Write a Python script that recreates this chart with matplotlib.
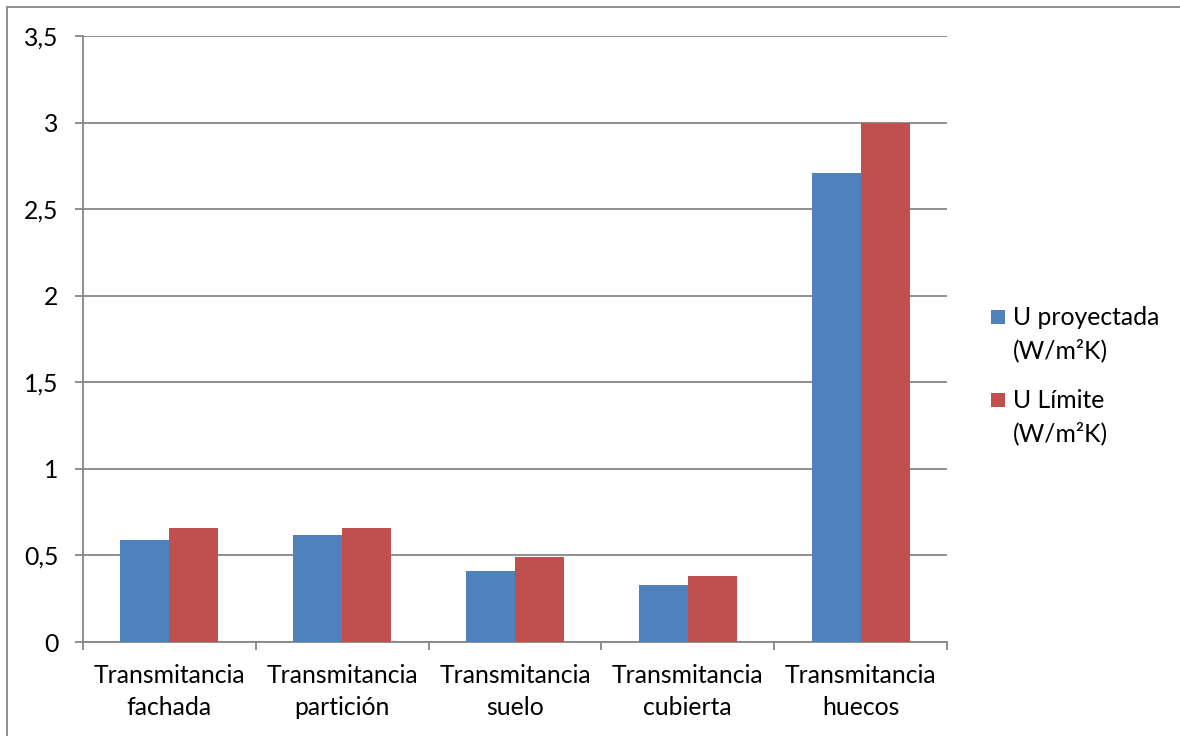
import matplotlib.pyplot as plt
from matplotlib.patches import Rectangle
import numpy as np

categories = ["Transmitancia\nfachada", "Transmitancia\npartición", "Transmitancia\nsuelo",
              "Transmitancia\ncubierta", "Transmitancia\nhuecos"]
u_proyectada = [0.59, 0.62, 0.41, 0.33, 2.71]
u_limite = [0.66, 0.66, 0.49, 0.38, 3.00]
series_labels = ["U proyectada\n(W/m²K)", "U Límite\n(W/m²K)"]
y_ticks = [0, 0.5, 1, 1.5, 2, 2.5, 3, 3.5]
y_tick_labels = ["0", "0,5", "1", "1,5", "2", "2,5", "3", "3,5"]

plt.rcParams['font.family'] = ['Lato', 'DejaVu Sans']
FS = 17.8
TXT = '#000000'

W, H = 1180, 736
fig = plt.figure(figsize=(W / 100, H / 100), dpi=100)
fig.patch.set_facecolor('white')

def fx(px):
    return px / W

def fy(py):
    return 1 - py / H

# chart-area frame (runs past the right and bottom edges)
fig.patches.append(Rectangle((fx(7), -0.1), 1.2, fy(7) + 0.1, transform=fig.transFigure,
                             fill=False, edgecolor='#868686', linewidth=1.3))

ax = fig.add_axes([fx(83), fy(642), 864 / W, 606 / H])

grid_col = '#868686'
colors = ['#4F81BD', '#C0504D']
x = np.arange(len(categories))
bw = 0.284
ax.bar(x - bw / 2, u_proyectada, bw, color=colors[0], zorder=3)
ax.bar(x + bw / 2, u_limite, bw, color=colors[1], zorder=3)

ax.set_xlim(-0.5, len(categories) - 0.5)
ax.set_ylim(0, 3.5)
ax.set_yticks(y_ticks)
ax.set_yticklabels(y_tick_labels)
ax.yaxis.grid(True, color=grid_col, linewidth=1.3, zorder=0)
ax.set_axisbelow(True)

for s in ['top', 'right']:
    ax.spines[s].set_visible(False)
for s in ['left', 'bottom']:
    ax.spines[s].set_color(grid_col)
    ax.spines[s].set_linewidth(1.3)

# category labels centered, tick marks at category boundaries
ax.set_xticks(x)
ax.set_xticklabels(categories, fontsize=FS, linespacing=1.45, color=TXT)
ax.tick_params(axis='x', length=0, pad=16)
ax.set_xticks(np.arange(len(categories) + 1) - 0.5, minor=True)
ax.tick_params(axis='x', which='minor', length=5.8, width=1.3, color=grid_col)
ax.tick_params(axis='y', length=5.8, width=1.3, color=grid_col, labelsize=FS,
               labelcolor=TXT, pad=12)

# legend: square marker beside the first line of each two-line entry
sq = 14
entry_top = [310, 393]
line_gap = 33
for label, color, top in zip(series_labels, colors, entry_top):
    fig.patches.append(Rectangle((fx(991), fy(top + sq)), sq / W, sq / H,
                                 transform=fig.transFigure, facecolor=color,
                                 edgecolor='none'))
    for k, line in enumerate(label.split('\n')):
        fig.text(fx(1013), fy(top + 15 + k * line_gap), line, fontsize=FS,
                 color=TXT, ha='left', va='baseline')

fig.savefig('out.png', dpi=100, facecolor='white')
